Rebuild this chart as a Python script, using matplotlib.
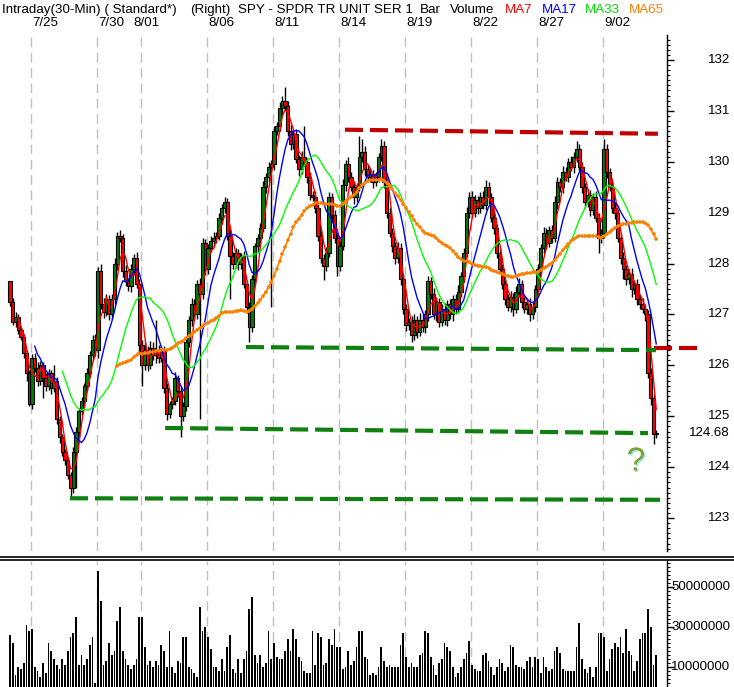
import matplotlib
matplotlib.use("Agg")
import matplotlib.pyplot as plt
import matplotlib.patheffects as pe
from matplotlib.lines import Line2D
from matplotlib.transforms import blended_transform_factory
import numpy as np
import pandas as pd

# 30-min bars, resampled to 8 bars per trading day
first_open = 127.65
closes = [
    127.25, 126.85, 126.95, 126.70, 126.55, 126.25, 125.85, 125.25,
    126.15, 125.95, 125.70, 126.00, 125.75, 125.60, 125.85, 125.55,
    125.70, 124.95, 124.60, 124.30, 124.15, 123.85, 123.60, 124.30,
    124.70, 125.10, 125.30, 125.60, 125.85, 126.20, 126.50, 126.30,
    127.85, 127.20, 127.05, 127.30, 127.00, 127.30, 128.00, 128.55,
    128.50, 127.85, 127.65, 127.55, 127.90, 128.10, 127.60, 126.40,
    126.00, 126.30, 126.00, 126.35, 126.20, 126.30, 126.15, 126.30,
    125.55, 125.05, 125.25, 125.30, 125.75, 125.50, 125.00, 125.20,
    126.45, 126.90, 127.20, 127.00, 127.60, 127.40, 128.40, 127.90,
    128.30, 128.45, 128.50, 128.55, 128.90, 129.10, 129.20, 128.55,
    128.15, 128.00, 128.20, 128.00, 128.15, 127.60, 127.15, 126.75,
    127.70, 128.35, 128.50, 128.70, 129.50, 129.70, 129.90, 129.95,
    130.60, 130.70, 131.05, 131.20, 131.10, 130.60, 130.35, 130.55,
    130.05, 129.85, 130.10, 130.00, 129.70, 129.35, 129.30, 129.10,
    128.55, 128.10, 127.95, 128.20, 129.30, 128.95, 128.50, 127.95,
    128.35, 129.55, 129.95, 129.70, 129.50, 129.30, 129.50, 130.10,
    130.20, 129.85, 129.70, 129.75, 129.60, 129.70, 130.10, 130.30,
    129.60, 129.00, 128.60, 128.35, 128.10, 128.30, 127.70, 127.10,
    126.80, 126.85, 126.60, 126.90, 126.65, 126.90, 126.75, 127.00,
    127.65, 127.40, 127.00, 127.25, 126.85, 127.10, 126.90, 127.20,
    127.00, 127.30, 127.10, 127.45, 127.75, 128.20, 129.00, 129.30,
    129.00, 129.25, 129.10, 129.30, 129.15, 129.50, 129.30, 128.90,
    128.70, 128.20, 127.90, 127.60, 127.30, 127.15, 127.35, 127.10,
    127.45, 127.60, 127.25, 127.10, 127.20, 127.00, 127.15, 127.50,
    127.90, 128.30, 128.60, 128.40, 128.65, 128.50, 129.20, 129.60,
    129.50, 129.80, 129.70, 130.00, 129.90, 130.10, 130.25, 129.90,
    129.50, 129.20, 129.35, 129.05, 129.30, 128.90, 128.50, 128.60,
    130.25, 129.80, 129.50, 129.10, 129.00, 128.50, 128.10, 127.90,
    127.70, 127.80, 127.50, 127.60, 127.30, 127.20, 127.10, 127.00,
    125.85, 125.35, 124.65, 124.68,
]
# wick lengths above / below the body, in cents
up_wick = [
    0, 8, 10, 6, 5, 6, 5, 6,
    8, 10, 12, 8, 6, 10, 8, 6,
    30, 8, 6, 6, 5, 6, 5, 10,
    8, 6, 8, 6, 10, 8, 10, 12,
    8, 15, 12, 10, 8, 10, 10, 8,
    10, 8, 12, 6, 10, 8, 12, 10,
    10, 15, 8, 12, 10, 60, 10, 8,
    8, 10, 6, 8, 12, 6, 10, 8,
    10, 8, 12, 10, 8, 12, 10, 8,
    8, 10, 12, 8, 10, 8, 10, 8,
    12, 8, 10, 8, 6, 10, 8, 10,
    8, 6, 8, 10, 12, 8, 10, 8,
    10, 8, 12, 10, 27, 10, 12, 8,
    10, 8, 12, 60, 8, 10, 8, 12,
    8, 10, 8, 12, 10, 8, 10, 8,
    10, 12, 8, 15, 10, 12, 8, 40,
    25, 10, 8, 12, 8, 10, 8, 15,
    10, 8, 12, 10, 8, 12, 10, 8,
    10, 8, 12, 10, 8, 12, 10, 8,
    10, 8, 12, 10, 8, 10, 12, 8,
    10, 8, 10, 12, 8, 10, 12, 10,
    12, 10, 8, 10, 12, 15, 10, 8,
    10, 8, 12, 10, 8, 10, 12, 8,
    10, 12, 8, 10, 8, 12, 10, 8,
    10, 8, 12, 10, 8, 10, 12, 10,
    8, 12, 10, 8, 12, 10, 15, 10,
    10, 8, 12, 10, 8, 12, 10, 8,
    20, 10, 8, 12, 10, 8, 10, 12,
    8, 10, 12, 8, 10, 8, 12, 10,
    8, 10, 8, 5,
]
dn_wick = [
    8, 6, 10, 8, 6, 10, 15, 5,
    10, 8, 10, 8, 40, 10, 8, 12,
    8, 10, 12, 8, 10, 8, 18, 10,
    70, 10, 8, 12, 10, 8, 10, 12,
    15, 10, 12, 8, 10, 8, 10, 12,
    8, 12, 10, 8, 10, 12, 8, 15,
    40, 10, 12, 8, 10, 15, 10, 8,
    10, 12, 8, 10, 8, 12, 40, 10,
    10, 8, 12, 10, 8, 245, 10, 12,
    10, 8, 12, 10, 8, 12, 10, 8,
    85, 10, 8, 12, 10, 8, 12, 30,
    10, 8, 12, 10, 8, 12, 10, 275,
    12, 8, 10, 12, 8, 10, 12, 10,
    8, 12, 10, 8, 12, 10, 8, 10,
    10, 8, 27, 10, 8, 12, 10, 20,
    10, 8, 12, 10, 8, 12, 10, 8,
    10, 12, 8, 10, 12, 8, 10, 8,
    12, 10, 8, 12, 10, 8, 12, 10,
    12, 10, 15, 10, 12, 8, 10, 12,
    12, 10, 8, 12, 10, 8, 10, 12,
    8, 12, 10, 8, 10, 12, 8, 10,
    10, 8, 12, 10, 8, 10, 12, 8,
    12, 10, 8, 10, 12, 8, 10, 12,
    8, 10, 12, 8, 10, 12, 8, 10,
    12, 8, 10, 12, 8, 10, 8, 12,
    10, 12, 8, 10, 8, 12, 10, 8,
    12, 10, 8, 12, 10, 8, 30, 10,
    10, 12, 8, 10, 12, 8, 10, 20,
    12, 10, 15, 10, 12, 10, 8, 12,
    10, 12, 20, 8,
]
# volume in millions of shares
volume = [
    26, 22, 6, 10, 9, 12, 31, 28,
    29, 10, 8, 5, 12, 7, 22, 18,
    14, 11, 9, 14, 11, 18, 25, 27,
    35, 11, 16, 11, 14, 21, 25, 2,
    58, 43, 11, 13, 22, 16, 18, 33,
    40, 18, 14, 11, 9, 11, 14, 35,
    35, 20, 11, 13, 10, 13, 11, 21,
    18, 10, 28, 10, 7, 13, 12, 25,
    25, 10, 9, 7, 5, 40, 28, 30,
    25, 19, 10, 10, 8, 14, 8, 20,
    26, 9, 7, 14, 7, 14, 18, 39,
    45, 16, 12, 16, 10, 12, 28, 14,
    22, 15, 14, 14, 18, 24, 18, 29,
    24, 15, 13, 8, 7, 7, 28, 11,
    27, 25, 11, 12, 24, 21, 29, 20,
    20, 9, 10, 18, 11, 13, 20, 28,
    28, 15, 14, 6, 7, 6, 10, 20,
    13, 10, 11, 10, 10, 10, 21, 27,
    15, 10, 12, 10, 10, 16, 17, 28,
    27, 15, 11, 6, 12, 14, 22, 20,
    18, 10, 5, 7, 10, 14, 17, 23,
    11, 9, 8, 8, 16, 17, 13, 10,
    6, 10, 14, 12, 8, 10, 21, 20,
    11, 10, 10, 9, 13, 15, 10, 15,
    14, 7, 15, 10, 8, 9, 18, 20,
    17, 9, 8, 8, 8, 8, 20, 32,
    14, 9, 7, 10, 5, 10, 27, 27,
    25, 8, 14, 19, 22, 20, 25, 17,
    29, 18, 16, 8, 13, 24, 27, 27,
    39, 30, 11, 16,
]
date_labels = ["7/25", "7/30", "8/01", "8/06", "8/11", "8/14", "8/19", "8/22", "8/27", "9/02"]
date_first_bar = [8, 32, 48, 72, 96, 120, 144, 168, 192, 216]
price_ticks = [123, 124, 125, 126, 127, 128, 129, 130, 131, 132]
volume_ticks = [10, 30, 50]
last_price = 124.68
ma_names = ["MA7", "MA17", "MA33", "MA65"]
ma_windows = [4, 10, 20, 40]  # same time span as 7/17/33/65 bars at 13 bars a day
ma_colors = ["#ff0000", "#0000ff", "#00ff00", "#ff8000"]

# hand-drawn trend lines: (start bar, end bar, start price, end price)
resistance = [(121.8, 235.6, 130.63, 130.55)]
resistance_break = [(234.0, 252.0, 126.34, 126.34)]
supports = [(85.8, 234.9, 126.36, 126.30), (56.4, 232.0, 124.77, 124.67),
            (21.8, 236.4, 123.39, 123.36)]

plt.rcParams["font.family"] = ["Liberation Sans", "DejaVu Sans"]
plt.rcParams["lines.scale_dashes"] = False

W, H = 734, 687
fig = plt.figure(figsize=(W / 100, H / 100), dpi=100)
fig.patch.set_facecolor("white")


def px_rect(x0, y0, x1, y1):
    return [x0 / W, 1 - y1 / H, (x1 - x0) / W, (y1 - y0) / H]


ax = fig.add_axes(px_rect(0, 35, 667, 551))
vax = fig.add_axes(px_rect(0, 561, 667, 687))

closes = np.asarray(closes)
n = len(closes)
bars = np.arange(n)
opens = np.r_[first_open, closes[:-1]]
highs = np.maximum(opens, closes) + np.asarray(up_wick) / 100
lows = np.minimum(opens, closes) - np.asarray(dn_wick) / 100
colors = np.where(closes >= opens, "#008000", "#ff0000")

xlim = (-10 / 2.75, 657 / 2.75)
for a in (ax, vax):
    a.set_xlim(*xlim)
    a.set_xticks([])
    for side in ("left", "top", "bottom"):
        a.spines[side].set_visible(False)
    a.spines["right"].set_linewidth(1)
    a.yaxis.tick_right()
    a.tick_params(axis="y", which="major", direction="out", length=5, width=1, labelright=False)
    a.tick_params(axis="y", which="minor", direction="out", length=2, width=0.8)
    for b in date_first_bar:
        a.axvline(b - 0.5, color="#c0c0c0", lw=1, dashes=(7, 4), zorder=0)

ax.set_ylim(122.354, 132.49)
ax.set_yticks(price_ticks)
ax.set_yticks(np.arange(122.4, 132.5, 0.1), minor=True)

ax.vlines(bars, lows, highs, color="black", lw=1.0, zorder=2)
ax.bar(bars, np.maximum(np.abs(closes - opens), 0.03), bottom=np.minimum(opens, closes),
       width=1.15, color=colors, edgecolor="black", linewidth=0.8, zorder=3)

s = pd.Series(closes)
for name, win, col in zip(ma_names, ma_windows, ma_colors):
    ma = s.rolling(win).mean()
    if name == "MA65":
        ax.plot(bars, ma, color=col, lw=1.2, marker="+", ms=3.5, mew=1.1, zorder=4)
    else:
        ax.plot(bars, ma, color=col, lw=1, zorder=4)

for x0, x1, p0, p1 in resistance:
    ax.plot([x0, x1], [p0, p1], color="#c00000", lw=3, dashes=(13, 5), zorder=5)
for x0, x1, p0, p1 in resistance_break:
    ax.plot([x0, x1], [p0, p1], color="#c00000", lw=3, dashes=(13, 5), zorder=5, clip_on=False)
for x0, x1, p0, p1 in supports:
    ax.plot([x0, x1], [p0, p1], color="#108010", lw=3, dashes=(13, 5), zorder=5)

ax.text(227.6, 124.1, "?", fontsize=24, color="#7f9f35", ha="center", va="center",
        path_effects=[pe.SimplePatchShadow(offset=(1, -1), shadow_rgbFace="#90e0e0", alpha=0.9),
                      pe.Normal()])

ytr = ax.get_yaxis_transform()
for p in price_ticks:
    ax.text(730 / 667, p, str(p), transform=ytr, ha="right", va="center", fontsize=9.5, clip_on=False)
ax.text(730 / 667, last_price, f"{last_price:.2f}", transform=ytr, ha="right", va="center",
        fontsize=9.5, clip_on=False)

vax.bar(bars, volume, width=0.6, color="black", zorder=2)
vax.set_ylim(0, 63)
vax.set_yticks(volume_ticks)
vax.set_yticks(np.arange(2, 63, 2), minor=True)
vtr = vax.get_yaxis_transform()
for v in volume_ticks:
    vax.text(730 / 667, v, f"{v * 1000000:d}", transform=vtr, ha="right", va="center",
             fontsize=9.5, clip_on=False)

# panel separator
for yy in (557, 560):
    fig.add_artist(Line2D([0, 1], [1 - yy / H] * 2, color="black", lw=1.2, transform=fig.transFigure))

# header
header = [("Intraday(30-Min) ( Standard*)", 2, "black"), ("(Right)", 190, "black"),
          ("SPY - SPDR TR UNIT SER 1", 238, "black"), ("Bar", 420, "black"),
          ("Volume", 450, "black"), ("MA7", 505, "#ff0000"), ("MA17", 542, "#0000ff"),
          ("MA33", 585, "#00e000"), ("MA65", 629, "#ff8000")]
for txt, x, col in header:
    fig.text(x / W, 1 - 10 / H, txt, color=col, fontsize=9.6, ha="left", va="center")

dtr = blended_transform_factory(ax.transData, fig.transFigure)
for lab, b in zip(date_labels, date_first_bar):
    dx = -2.5 if lab == "8/01" else 0.8
    ax.text(b - 0.5 + dx, 1 - 23 / H, lab, transform=dtr, fontsize=9.6, ha="left", va="center",
            clip_on=False)

fig.savefig("out.png", dpi=100, facecolor="white")
